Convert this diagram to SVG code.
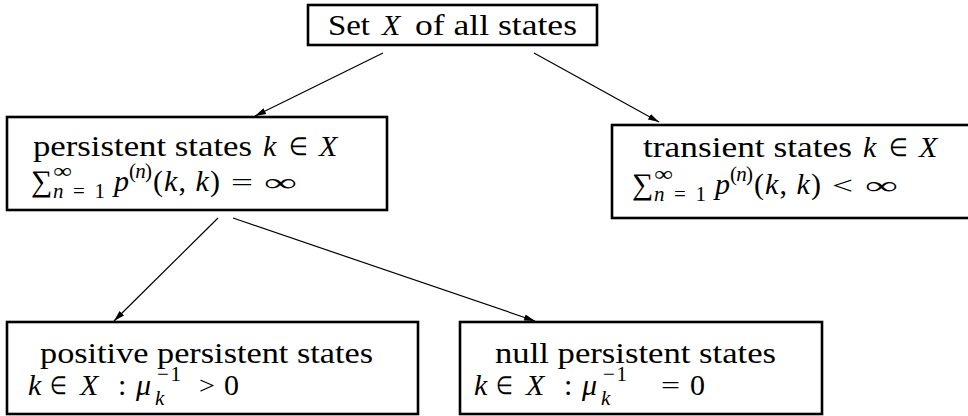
<svg xmlns="http://www.w3.org/2000/svg" width="968" height="416" viewBox="0 0 968 416">
<style>
text{font-family:"Liberation Serif","Times New Roman",serif;font-size:30px;fill:#000}
.i{font-style:italic}
.s{font-size:21px}
.op{font-size:25px}
.box{fill:#fff;stroke:#000;stroke-width:2.6}
.edge{stroke:#000;stroke-width:1.2;fill:none;marker-end:url(#ah)}
</style>
<defs>
<marker id="ah" markerUnits="userSpaceOnUse" markerWidth="12" markerHeight="8" refX="11" refY="4" orient="auto">
<path d="M0,0.8 L11,4 L0,7.2 z" fill="#000"/>
</marker>
</defs>
<g id="connectors">
<line class="edge" x1="383" y1="53" x2="255" y2="116"/>
<line class="edge" x1="534" y1="53" x2="659" y2="122"/>
<line class="edge" x1="218" y1="218" x2="114" y2="321"/>
<line class="edge" x1="233" y1="218" x2="535" y2="321"/>
</g>
<g id="all">
<rect class="box" x="308" y="5" width="289" height="40"/>
<text x="328" y="35" textLength="42" lengthAdjust="spacingAndGlyphs">Set</text>
<text class="i" x="382" y="35">X</text>
<text x="415" y="35" textLength="162" lengthAdjust="spacingAndGlyphs">of all states</text>
</g>
<g id="persistent">
<rect class="box" x="7" y="117" width="380" height="93"/>
<text x="33" y="156" textLength="219" lengthAdjust="spacingAndGlyphs">persistent states</text>
<text class="i" x="263" y="156">k</text>
<text class="op" x="289" y="155" textLength="19" lengthAdjust="spacingAndGlyphs">∈</text>
<text class="i" x="319" y="156">X</text>
<text x="31" y="191">∑</text>
<text class="s" x="53" y="178" textLength="19" lengthAdjust="spacingAndGlyphs">∞</text>
<text class="s" x="53" y="198" textLength="52"><tspan class="i">n</tspan>=1</text>
<text class="i" x="114" y="191">p</text>
<text class="s" x="129" y="178" textLength="23">(<tspan class="i">n</tspan>)</text>
<text x="153" y="191" textLength="67">(<tspan class="i">k</tspan>, <tspan class="i">k</tspan>)</text>
<text class="op" x="231" y="191" textLength="22" lengthAdjust="spacingAndGlyphs">=</text>
<text class="op" x="264" y="191" textLength="33" lengthAdjust="spacingAndGlyphs">∞</text>
</g>
<g id="transient">
<rect class="box" x="612" y="125" width="372" height="93"/>
<text x="643" y="157" textLength="209" lengthAdjust="spacingAndGlyphs">transient states</text>
<text class="i" x="863" y="157">k</text>
<text class="op" x="889" y="156" textLength="19" lengthAdjust="spacingAndGlyphs">∈</text>
<text class="i" x="919" y="157">X</text>
<text x="632" y="194">∑</text>
<text class="s" x="654" y="181" textLength="19" lengthAdjust="spacingAndGlyphs">∞</text>
<text class="s" x="654" y="201" textLength="52"><tspan class="i">n</tspan>=1</text>
<text class="i" x="715" y="194">p</text>
<text class="s" x="730" y="181" textLength="23">(<tspan class="i">n</tspan>)</text>
<text x="754" y="194" textLength="67">(<tspan class="i">k</tspan>, <tspan class="i">k</tspan>)</text>
<text class="op" x="832" y="194" textLength="21" lengthAdjust="spacingAndGlyphs">&lt;</text>
<text class="op" x="865" y="194" textLength="33" lengthAdjust="spacingAndGlyphs">∞</text>
</g>
<g id="positive">
<rect class="box" x="7" y="322" width="411" height="92"/>
<text x="40" y="363" textLength="333" lengthAdjust="spacingAndGlyphs">positive persistent states</text>
<text class="i" x="28" y="395">k</text>
<text class="op" x="50" y="394" textLength="17" lengthAdjust="spacingAndGlyphs">∈</text>
<text class="i" x="80" y="395">X</text>
<text x="118" y="395">:</text>
<text class="i" x="136" y="395">μ</text>
<text class="s" x="157" y="381" textLength="24">−1</text>
<text class="s i" x="155" y="405">k</text>
<text class="op" x="199" y="394" textLength="16" lengthAdjust="spacingAndGlyphs">&gt;</text>
<text x="224" y="395">0</text>
</g>
<g id="null">
<rect class="box" x="460" y="322" width="362" height="92"/>
<text x="495" y="363" textLength="281" lengthAdjust="spacingAndGlyphs">null persistent states</text>
<text class="i" x="474" y="395">k</text>
<text class="op" x="496" y="394" textLength="17" lengthAdjust="spacingAndGlyphs">∈</text>
<text class="i" x="526" y="395">X</text>
<text x="564" y="395">:</text>
<text class="i" x="582" y="395">μ</text>
<text class="s" x="603" y="381" textLength="24">−1</text>
<text class="s i" x="601" y="405">k</text>
<text class="op" x="661" y="394" textLength="19" lengthAdjust="spacingAndGlyphs">=</text>
<text x="690" y="395">0</text>
</g>
</svg>
